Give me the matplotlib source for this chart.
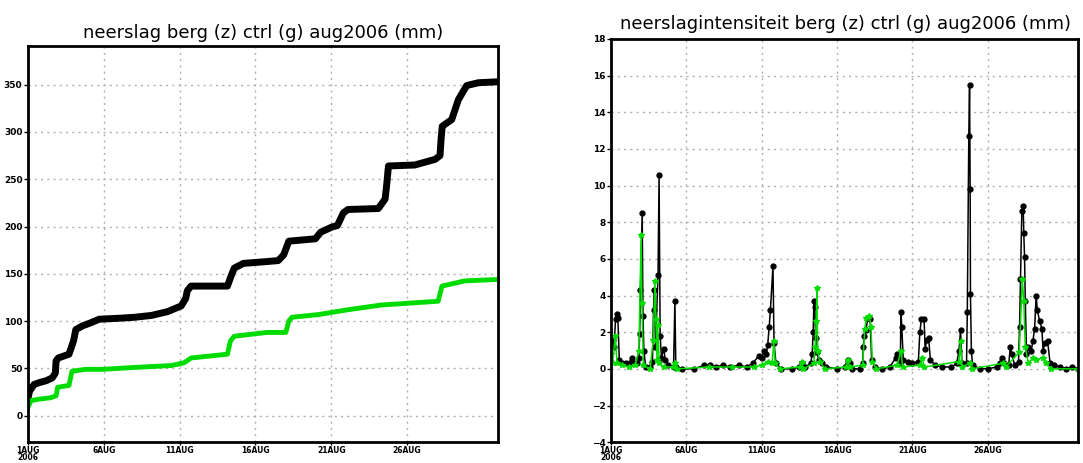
import numpy as np
import matplotlib
matplotlib.use("Agg")
import matplotlib.pyplot as plt

# days since 1 Aug 2006 00 UTC
tick_days = [0, 5, 10, 15, 20, 25]
tick_labels = ["1AUG\n2006", "6AUG", "11AUG", "16AUG", "21AUG", "26AUG"]

# cumulative precipitation (mm)
cum_berg_t = [0.00, 0.10, 0.40, 0.75, 1.20, 1.60, 1.80, 1.85, 2.00, 2.70, 2.85, 3.00, 3.15,
              3.60, 4.10, 4.70, 6.00, 7.00, 8.15, 9.20, 10.10, 10.40, 10.50, 10.75, 13.15,
              13.40, 13.60, 14.20, 15.80, 16.50, 16.86, 17.20, 18.95, 19.30, 20.05, 20.40,
              20.80, 21.10, 23.10, 23.55, 23.66, 23.77, 25.50, 26.85, 27.17, 27.24, 27.32,
              27.94, 28.38, 28.93, 29.70, 31.00]
cum_berg_v = [19, 26, 33, 35, 37, 40, 45, 58, 61, 65, 72, 79, 91,
              95, 98, 102, 103, 104, 106, 110, 116, 124, 132, 137, 137,
              148, 156, 161, 163, 164, 170, 184.5, 187, 194, 199.5, 201,
              214.5, 218, 219, 229, 245, 264, 265, 271, 275, 292, 306,
              313, 334, 349, 352, 353]

cum_ctrl_t = [0.00, 0.20, 0.75, 1.50, 1.85, 1.95, 2.70, 2.90, 3.80, 4.90, 7.00, 9.45,
              10.30, 10.75, 13.15, 13.35, 13.60, 15.76, 17.00, 17.20, 17.40, 19.20,
              21.10, 23.30, 27.05, 27.30, 28.80, 31.00]
cum_ctrl_v = [9, 16, 17.5, 19, 21, 30, 32, 47, 49, 49, 51, 53,
              56, 61, 65, 79, 84, 88, 88, 100, 104, 107,
              112, 117, 121, 137, 142.5, 144]

# precipitation intensity (mm)
int_berg_t = [0.00, 0.10, 0.20, 0.30, 0.39, 0.45, 0.55, 0.70, 1.00, 1.30, 1.40, 1.55, 1.75,
              1.85, 1.90, 1.95, 2.07, 2.12, 2.18, 2.30, 2.60, 2.75, 2.82, 2.88, 2.95, 3.12,
              3.19, 3.26, 3.35, 3.50, 3.60, 3.80, 4.15, 4.24, 4.30, 4.70, 5.50, 6.20, 6.60,
              7.00, 7.40, 7.90, 8.50, 9.00, 9.40, 9.80, 10.00, 10.15, 10.30, 10.40, 10.50,
              10.58, 10.75, 10.82, 10.95, 11.30, 12.00, 12.50, 12.65, 12.90, 13.25, 13.35,
              13.42, 13.47, 13.53, 13.58, 13.65, 13.80, 14.00, 14.30, 15.00, 15.50, 15.70,
              15.85, 16.00, 16.50, 16.70, 16.75, 16.80, 16.92, 17.05, 17.20, 17.30, 17.50,
              18.00, 18.50, 18.90, 19.00, 19.20, 19.25, 19.30, 19.40, 19.70, 20.00, 20.40,
              20.50, 20.60, 20.78, 20.85, 20.97, 21.08, 21.20, 21.50, 22.00, 22.60, 22.95,
              23.10, 23.20, 23.30, 23.60, 23.65, 23.75, 23.80, 23.84, 23.86, 23.92, 24.00,
              24.50, 25.00, 25.60, 25.80, 25.95, 26.10, 26.40, 26.50, 26.60, 26.80, 27.05,
              27.12, 27.18, 27.27, 27.36, 27.40, 27.45, 27.50, 27.58, 27.70, 27.90, 28.00,
              28.12, 28.22, 28.30, 28.45, 28.60, 28.68, 28.80, 28.98, 29.15, 29.40, 29.80,
              30.20, 30.60, 31.00]
int_berg_v = [1.5, 1.6, 1.2, 2.7, 3.0, 2.8, 0.5, 0.3, 0.3, 0.4, 0.6, 0.3, 0.3,
              0.6, 1.9, 4.3, 8.5, 2.9, 1.0, 0.1, 0.1, 0.4, 3.2, 4.3, 1.2, 5.1,
              10.6, 1.8, 0.6, 1.1, 0.5, 0.2, 0.1, 3.7, 0.1, 0.0, 0.0, 0.2, 0.2,
              0.1, 0.2, 0.1, 0.2, 0.1, 0.3, 0.7, 0.6, 1.0, 0.8, 1.3, 2.3,
              3.2, 5.6, 1.4, 0.3, 0.0, 0.0, 0.1, 0.3, 0.1, 0.3, 0.8,
              2.0, 3.7, 3.4, 1.7, 0.9, 0.5, 0.3, 0.1, 0.0, 0.1, 0.5,
              0.3, 0.0, 0.0, 0.3, 1.2, 1.8, 2.1, 2.8, 2.7, 0.5, 0.1,
              0.0, 0.1, 0.6, 0.8, 0.3, 3.1, 2.3, 0.5, 0.4, 0.3, 0.4,
              2.0, 2.7, 2.7, 1.1, 1.6, 1.7, 0.5, 0.2, 0.1, 0.1, 0.3,
              1.0, 2.1, 0.3, 0.3, 3.1, 12.7, 15.5, 9.8, 4.1, 1.0, 0.2,
              0.0, 0.0, 0.1, 0.3, 0.6, 0.3, 0.2, 1.2, 0.8, 0.2, 0.4,
              2.3, 4.9, 8.6, 8.9, 7.4, 6.1, 3.7, 0.8, 1.2, 1.0, 1.5,
              2.2, 4.0, 3.2, 2.6, 2.2, 1.0, 1.4, 1.5, 0.3, 0.2, 0.1,
              0.0, 0.1, 0.0]

int_ctrl_t = [0.00, 0.10, 0.28, 0.40, 0.70, 1.20, 1.60, 1.85, 2.00, 2.05, 2.15, 2.60,
              2.80, 2.92, 2.98, 3.05, 3.10, 3.20, 3.50, 4.10, 4.25, 4.40, 6.50, 8.00,
              9.50, 10.00, 10.40, 10.70, 10.80, 10.90, 11.20, 12.55, 12.65, 12.75, 13.45,
              13.55, 13.62, 13.67, 13.72, 13.85, 14.20, 15.60, 15.70, 15.85, 16.70, 16.85,
              16.95, 17.15, 17.25, 17.35, 17.60, 19.00, 19.25, 19.35, 20.50, 20.65, 20.80,
              23.10, 23.20, 23.30, 23.80, 23.95, 26.00, 26.20, 27.10, 27.30, 27.40, 27.50,
              27.70, 28.00, 28.20, 28.65, 28.85, 29.20, 31.00]
int_ctrl_v = [0.8, 0.3, 1.8, 0.3, 0.2, 0.1, 0.2, 1.0, 7.3, 3.6, 0.2, 0.0,
              1.6, 4.8, 2.7, 0.5, 2.4, 0.3, 0.1, 0.1, 0.3, 0.0, 0.1, 0.1,
              0.1, 0.2, 0.4, 0.3, 1.5, 0.3, 0.0, 0.1, 0.4, 0.0, 0.3,
              1.2, 2.6, 4.4, 1.0, 0.4, 0.0, 0.1, 0.5, 0.1, 0.2, 2.2,
              2.8, 2.9, 2.3, 0.4, 0.0, 0.2, 1.0, 0.1, 0.2, 0.6, 0.1,
              0.4, 1.5, 0.1, 0.3, 0.0, 0.3, 0.1, 0.9, 4.9, 3.7, 1.2,
              0.3, 0.6, 0.5, 0.6, 0.3, 0.0, 0.0]

green = "#00dc00"

fig = plt.figure(figsize=(10.83, 4.63), dpi=100)
ax1 = fig.add_axes([0.0259, 0.045, 0.434, 0.856])
ax2 = fig.add_axes([0.5642, 0.045, 0.4312, 0.871])


def style(ax, yticks):
    ax.set_xlim(0, 31)
    ax.set_xticks(tick_days)
    ax.set_xticklabels(tick_labels, fontsize=5.5, fontweight="bold", linespacing=0.75)
    ax.set_yticks(yticks)
    ax.tick_params(axis="y", labelsize=6.5, length=3, width=1, pad=1)
    ax.tick_params(axis="x", length=2, width=1, pad=0.5)
    for lab in ax.get_yticklabels():
        lab.set_fontweight("bold")
    ax.grid(True, color="#b0b0b0", linestyle=(0, (1.5, 3)), linewidth=1)
    ax.set_axisbelow(True)
    for s in ax.spines.values():
        s.set_linewidth(2)


ax1.plot(cum_berg_t, cum_berg_v, color="black", lw=5, solid_capstyle="round",
         solid_joinstyle="round")
ax1.plot(cum_ctrl_t, cum_ctrl_v, color=green, lw=3.5, solid_capstyle="round",
         solid_joinstyle="round")
ax1.set_ylim(-28, 391)
style(ax1, np.arange(0, 351, 50))

ax2.plot(int_berg_t, int_berg_v, color="black", lw=1.1, marker="o", ms=3.5)
ax2.plot(int_ctrl_t, int_ctrl_v, color=green, lw=1.1, marker="*", ms=4)
ax2.set_ylim(-4, 18)
style(ax2, np.arange(-4, 19, 2))

fig.text(0.243, 0.929, "neerslag berg (z) ctrl (g) aug2006 (mm)", ha="center",
         va="center", fontsize=13)
fig.text(0.781, 0.948, "neerslagintensiteit berg (z) ctrl (g) aug2006 (mm)",
         ha="center", va="center", fontsize=13)

fig.savefig("out.png", dpi=100)
